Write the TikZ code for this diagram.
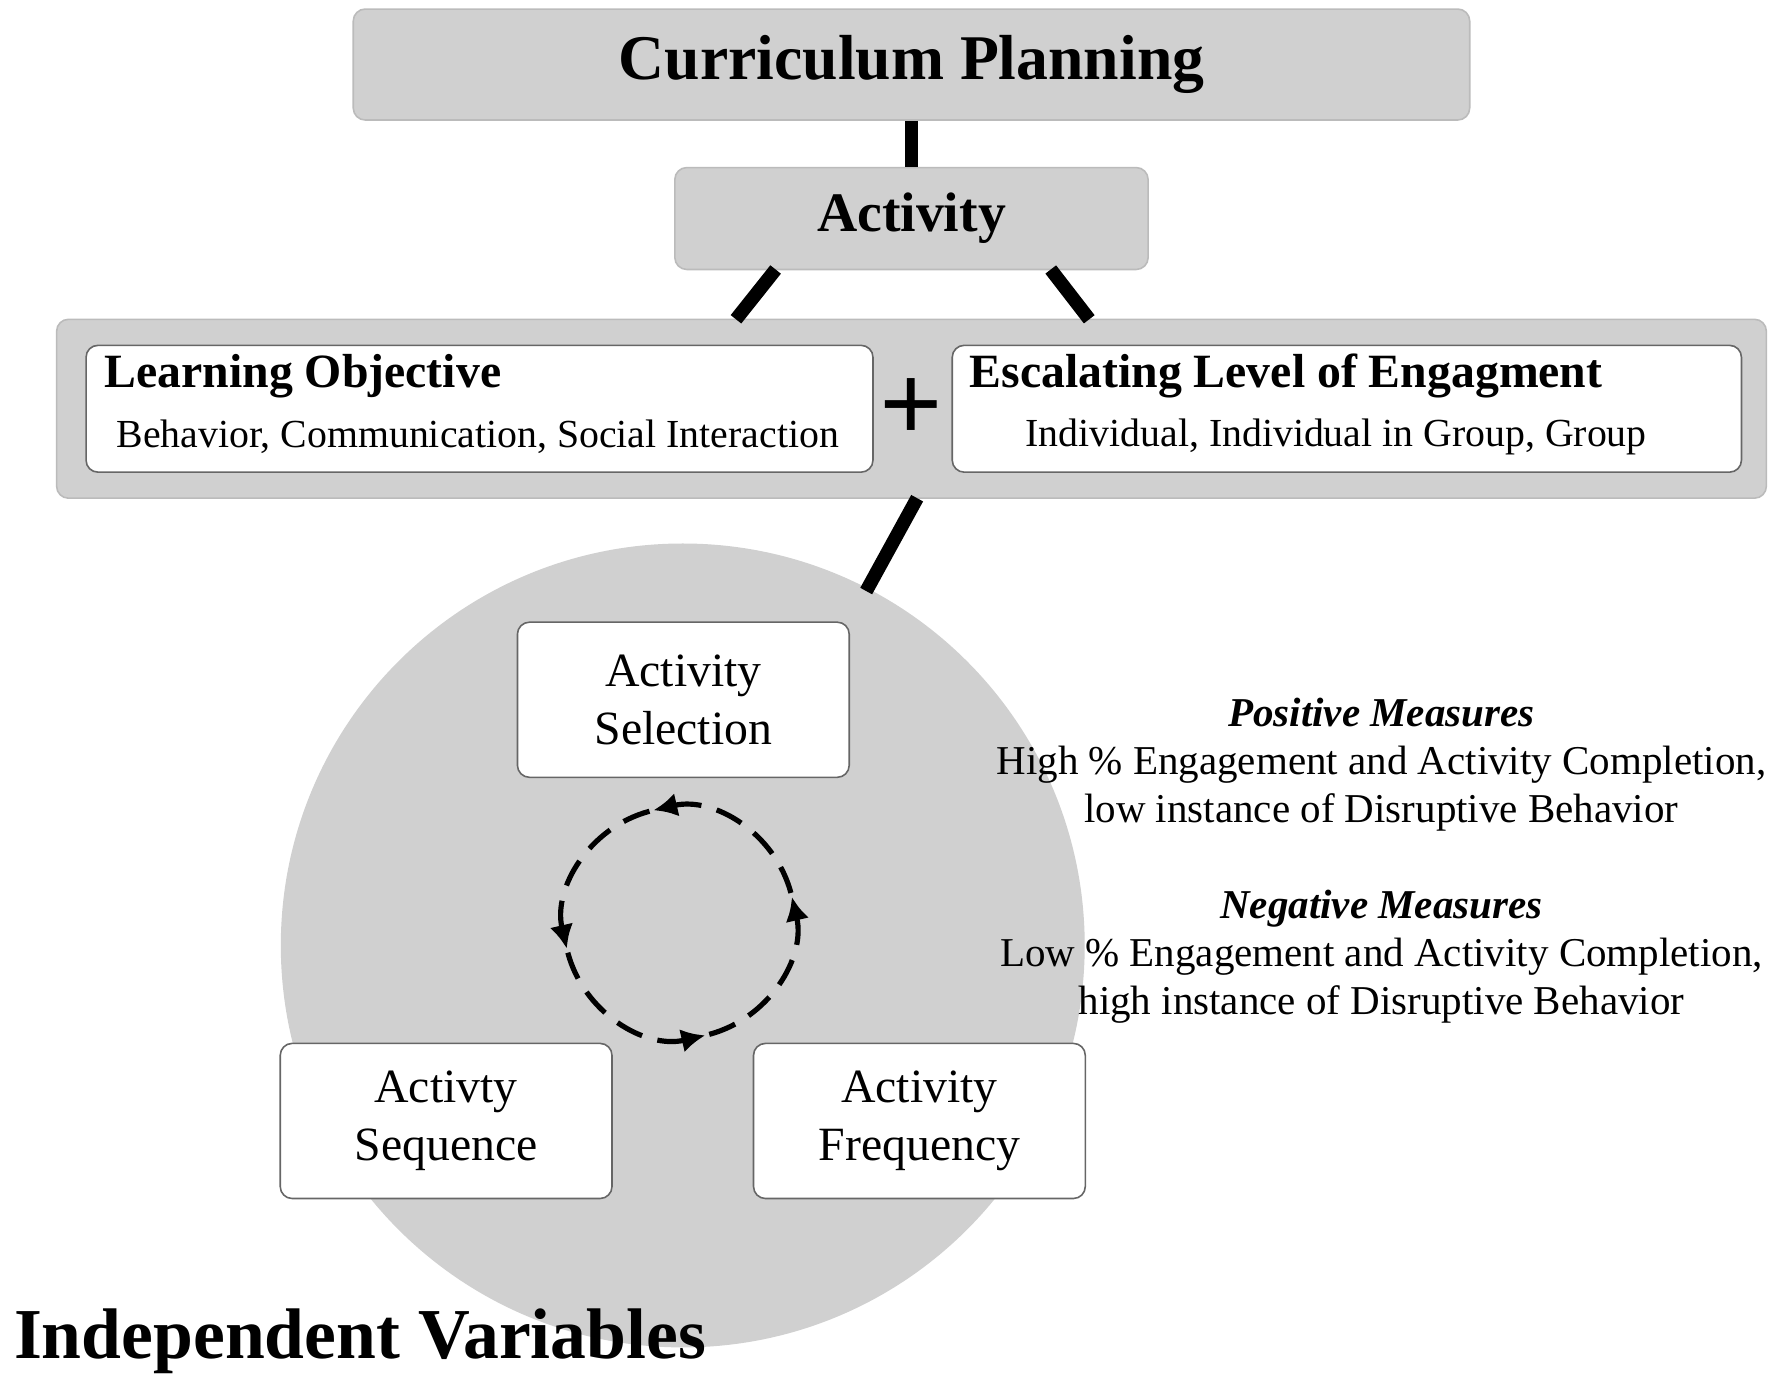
\documentclass[tikz,border=0pt]{standalone}
\usepackage{fontspec}
\setmainfont{Liberation Serif}
\usetikzlibrary{positioning,arrows.meta}
\definecolor{boxgray}{RGB}{208,208,208}
\begin{document}
\begin{tikzpicture}[
        graybox/.style={rectangle, rounded corners=3pt, fill=boxgray, draw=boxgray!90!black, thin},
        whitebox/.style={rectangle, rounded corners=3pt, fill=white, draw=black!60, thin},
        varbox/.style={whitebox, minimum width=2.93cm, minimum height=1.37cm, align=center, font=\fontsize{12}{14.5}\selectfont},
        link/.style={line width=3.4pt},
        ]
        \useasboundingbox (0,0) rectangle (15.65,-12.24);
        %Frame
        \fill[boxgray] (6.03,-8.35) circle (3.55);
        \node[graybox, minimum width=9.86cm, minimum height=0.98cm] (curriculum) at (8.05,-0.57) {};
        \node[font=\bfseries\fontsize{16}{18}\selectfont] at (curriculum) {Curriculum Planning};
        \node[graybox, minimum width=4.18cm, minimum height=0.9cm] (activity) at (8.05,-1.93) {};
        \node[font=\bfseries\fontsize{14}{16}\selectfont] at (activity) {Activity};
        \node[graybox, minimum width=15.1cm, minimum height=1.58cm] (band) at (8.05,-3.61) {};
        \node[whitebox, minimum width=6.95cm, minimum height=1.12cm] (objective) at (4.235,-3.61) {};
        \node[whitebox, minimum width=6.97cm, minimum height=1.12cm] (escalating) at (11.895,-3.61) {};
        \node[font=\bfseries\fontsize{12}{14}\selectfont, anchor=west] at (0.8,-3.32) {Learning Objective};
        \node[font=\fontsize{10}{12}\selectfont] at (4.22,-3.86) {Behavior, Communication, Social Interaction};
        \node[font=\bfseries\fontsize{12}{14}\selectfont, anchor=west] at (8.44,-3.32) {Escalating Level of Engagment};
        \node[font=\fontsize{10}{12}\selectfont] at (11.8,-3.86) {Individual, Individual in Group, Group};
        \node[font=\bfseries\fontsize{28}{28}\selectfont] (plus) at (8.05,-3.62) {+};
        %Variables
        \node[varbox] (selection) at (6.035,-6.18) {Activity\\Selection};
        \node[varbox] (sequence) at (3.94,-9.9) {Activty\\Sequence};
        \node[varbox] (frequency) at (8.12,-9.9) {Activity\\Frequency};
        \coordinate (cycle) at (6.0,-8.15);
        \foreach \a in {15,105,195,285}
            \draw[line width=1.3pt, dash pattern=on 7pt off 4pt, -{Latex[length=6pt,width=6pt]}]
                ([shift={(\a:1.02)}]cycle) arc[start angle=\a, end angle=\a+88, radius=1.02];
        %Measures
        \node[align=center, font=\fontsize{10.3}{12}\selectfont] (measures) at (12.2,-7.6)
            {\textbf{\textit{Positive Measures}}\\High \% Engagement and Activity Completion,\\low instance of Disruptive Behavior\\[0.43cm]
             \textbf{\textit{Negative Measures}}\\Low \% Engagement and Activity Completion,\\high instance of Disruptive Behavior};
        \node[font=\bfseries\fontsize{18}{20}\selectfont, anchor=west] (independent) at (0.0,-11.85) {Independent Variables};
        %Lines
        \draw[link] (curriculum.south) -- (activity.north);
        \draw[link] (6.85,-2.38) -- (6.5,-2.82);
        \draw[link] (9.28,-2.38) -- (9.62,-2.82);
        \draw[link] (8.1,-4.4) -- (7.65,-5.22);
\end{tikzpicture}
\end{document}
